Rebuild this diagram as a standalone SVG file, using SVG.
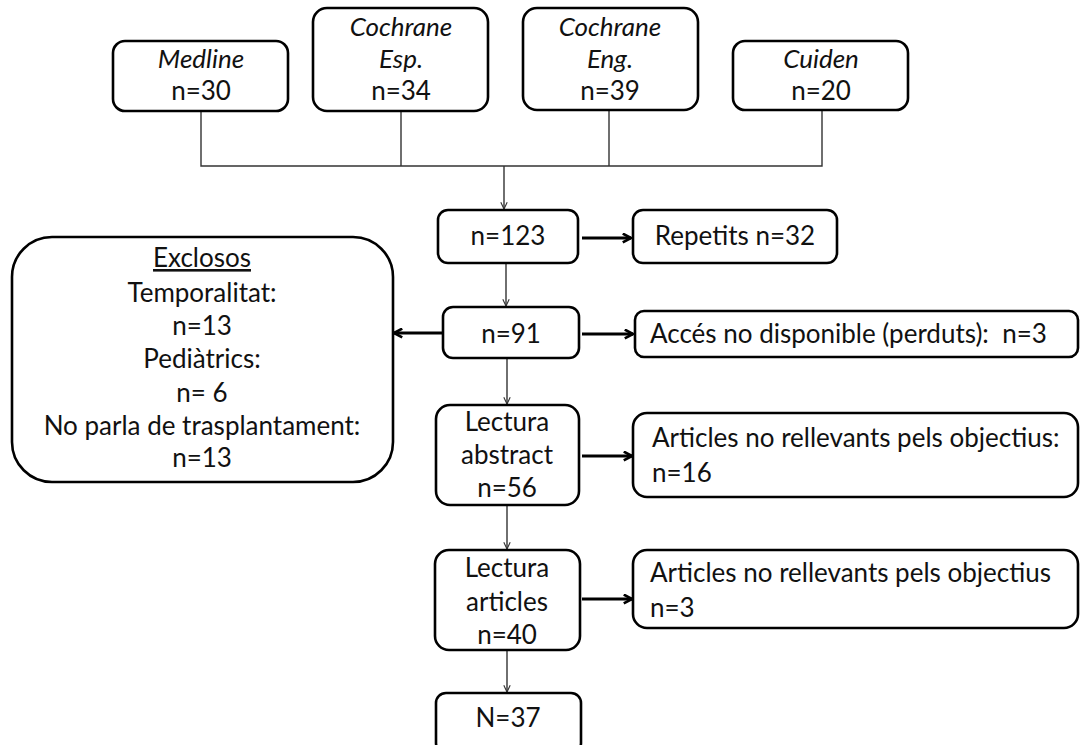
<svg xmlns="http://www.w3.org/2000/svg" width="1081" height="745" viewBox="0 0 1081 745">
<defs>
<style>
.box{fill:#fff;stroke:#000;stroke-width:2.6}
.t{font-family:Lato,"Liberation Sans",sans-serif;font-size:26px;fill:#111}
.c{text-anchor:middle}
.i{font-style:italic}
.thin{fill:none;stroke:#333;stroke-width:1.4}
.thick{fill:none;stroke:#000;stroke-width:3}
</style>
<marker id="av" viewBox="0 0 10 10" refX="9.5" refY="5" markerWidth="8" markerHeight="8" markerUnits="userSpaceOnUse" orient="auto">
<path d="M1,1 L9.5,5 L1,9" fill="none" stroke="#333" stroke-width="1.4"/>
</marker>
<marker id="ah" viewBox="0 0 10 10" refX="9" refY="5" markerWidth="11" markerHeight="11" markerUnits="userSpaceOnUse" orient="auto">
<path d="M1.5,1 L9,5 L1.5,9" fill="none" stroke="#000" stroke-width="2.4"/>
</marker>
</defs>
<rect width="1081" height="745" fill="#fff"/>
<g id="connectors">
<path class="thin" d="M201,111 V166 H822 V110 M401,111 V166 M609,110 V166"/>
<path class="thin" d="M504,166 V209" marker-end="url(#av)"/>
<path class="thin" d="M506,263 V306" marker-end="url(#av)"/>
<path class="thin" d="M507,358 V404" marker-end="url(#av)"/>
<path class="thin" d="M507,505 V549" marker-end="url(#av)"/>
<path class="thin" d="M507,650 V692" marker-end="url(#av)"/>
<path class="thick" d="M582,238 H631" marker-end="url(#ah)"/>
<path class="thick" d="M582,334 H633" marker-end="url(#ah)"/>
<path class="thick" d="M443,333 H394" marker-end="url(#ah)"/>
<path class="thick" d="M582,456 H632" marker-end="url(#ah)"/>
<path class="thick" d="M582,599 H632" marker-end="url(#ah)"/>
</g>
<g id="medline">
<rect class="box" x="113" y="41" width="175" height="70" rx="12"/>
<text class="t c i" x="201" y="68">Medline</text>
<text class="t c" x="201" y="100">n=30</text>
</g>
<g id="cochrane-esp">
<rect class="box" x="313" y="8" width="175" height="103" rx="14"/>
<text class="t c i" x="401" y="36">Cochrane</text>
<text class="t c i" x="401" y="68">Esp.</text>
<text class="t c" x="401" y="100">n=34</text>
</g>
<g id="cochrane-eng">
<rect class="box" x="523" y="8" width="175" height="102" rx="14"/>
<text class="t c i" x="610" y="36">Cochrane</text>
<text class="t c i" x="610" y="68">Eng.</text>
<text class="t c" x="610" y="100">n=39</text>
</g>
<g id="cuiden">
<rect class="box" x="733" y="41" width="175" height="69" rx="12"/>
<text class="t c i" x="821" y="68">Cuiden</text>
<text class="t c" x="821" y="100">n=20</text>
</g>
<g id="n123">
<rect class="box" x="438" y="210" width="140" height="53" rx="10"/>
<text class="t c" x="508" y="245">n=123</text>
</g>
<g id="repetits">
<rect class="box" x="633" y="210" width="204" height="53" rx="10"/>
<text class="t c" x="735" y="245">Repetits n=32</text>
</g>
<g id="n91">
<rect class="box" x="443" y="307" width="136" height="51" rx="10"/>
<text class="t c" x="511" y="343">n=91</text>
</g>
<g id="acces">
<rect class="box" x="635" y="311" width="443" height="46" rx="9"/>
<text class="t" x="650" y="343" xml:space="preserve">Accés no disponible (perduts):  n=3</text>
</g>
<g id="exclosos">
<rect class="box" x="12" y="237" width="381" height="245" rx="40"/>
<text class="t c" x="202" y="267" text-decoration="underline">Exclosos</text>
<text class="t c" x="202" y="302">Temporalitat:</text>
<text class="t c" x="202" y="335">n=13</text>
<text class="t c" x="202" y="368">Pediàtrics:</text>
<text class="t c" x="202" y="402" xml:space="preserve">n= 6</text>
<text class="t c" x="202" y="435">No parla de trasplantament:</text>
<text class="t c" x="202" y="467">n=13</text>
</g>
<g id="lectura-abstract">
<rect class="box" x="436" y="405" width="143" height="100" rx="14"/>
<text class="t c" x="507" y="431">Lectura</text>
<text class="t c" x="507" y="464">abstract</text>
<text class="t c" x="507" y="497">n=56</text>
</g>
<g id="no-rellevants-1">
<rect class="box" x="633" y="413" width="445" height="84" rx="14"/>
<text class="t" x="652" y="447">Articles no rellevants pels objectius:</text>
<text class="t" x="652" y="482">n=16</text>
</g>
<g id="lectura-articles">
<rect class="box" x="435" y="550" width="145" height="100" rx="14"/>
<text class="t c" x="507" y="577">Lectura</text>
<text class="t c" x="507" y="611">articles</text>
<text class="t c" x="507" y="644">n=40</text>
</g>
<g id="no-rellevants-2">
<rect class="box" x="633" y="550" width="445" height="78" rx="14"/>
<text class="t" x="650" y="582">Articles no rellevants pels objectius</text>
<text class="t" x="650" y="617">n=3</text>
</g>
<g id="n37">
<rect class="box" x="436" y="693" width="145" height="60" rx="10"/>
<text class="t c" x="508" y="727">N=37</text>
</g>
</svg>
